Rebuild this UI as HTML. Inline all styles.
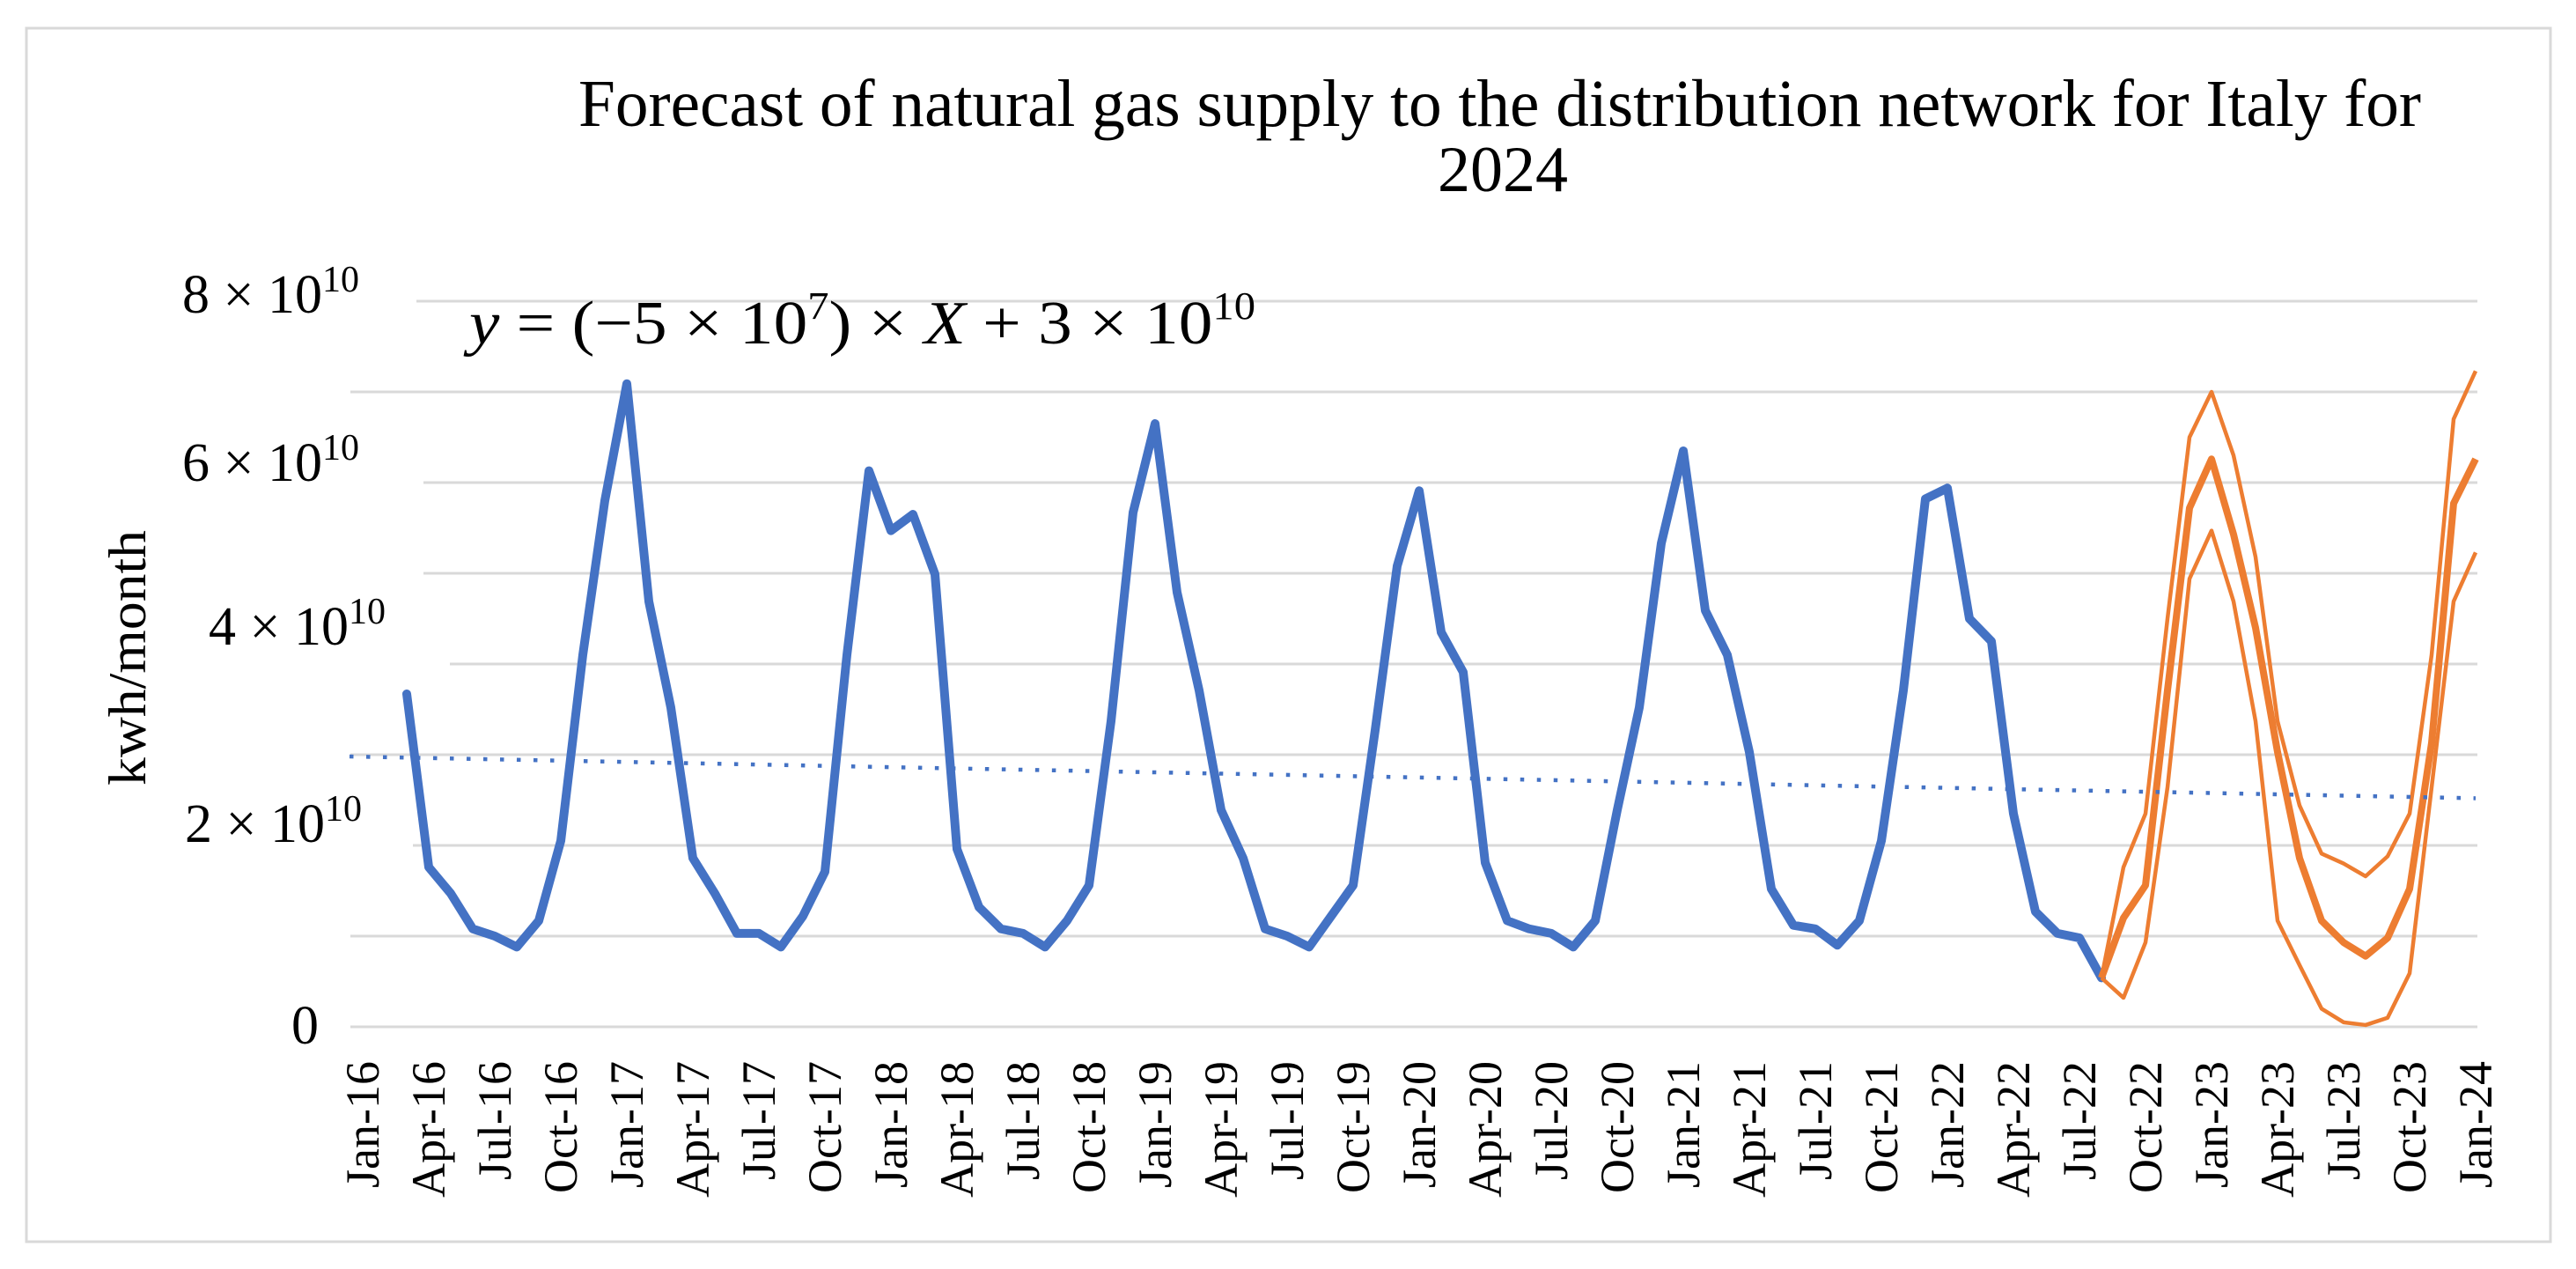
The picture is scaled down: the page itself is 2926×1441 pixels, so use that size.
<!DOCTYPE html>
<html><head><meta charset="utf-8"><style>
html,body{margin:0;padding:0;background:#fff;}
svg{display:block;}
text{font-family:"Liberation Serif",serif;fill:#000;}
</style></head><body>
<svg id="chart" width="2926" height="1441" viewBox="0 0 2926 1441" xmlns="http://www.w3.org/2000/svg">
<rect x="30" y="32" width="2867" height="1378" fill="#fff" stroke="#d9d9d9" stroke-width="3"/>
<g id="grid"></g>
<g id="ylabels"></g>
<g id="xlabels"></g>
<g id="series"></g>
<text x="657" y="143" font-size="76" textLength="2093" lengthAdjust="spacingAndGlyphs">Forecast of natural gas supply to the distribution network for Italy for</text>
<text x="1707" y="217" font-size="74" text-anchor="middle">2024</text>
<text x="533" y="390" font-size="70" textLength="893" lengthAdjust="spacingAndGlyphs"><tspan font-style="italic">y</tspan> = (−5 × 10<tspan font-size="44" dy="-28">7</tspan><tspan dy="28">) × </tspan><tspan font-style="italic">X</tspan> + 3 × 10<tspan font-size="44" dy="-28">10</tspan></text>
<text transform="translate(165,747) rotate(-90)" font-size="60" text-anchor="middle" textLength="290" lengthAdjust="spacingAndGlyphs">kwh/month</text>
</svg>
<script>
const months = ["Jan-16","Apr-16","Jul-16","Oct-16","Jan-17","Apr-17","Jul-17","Oct-17","Jan-18","Apr-18","Jul-18","Oct-18","Jan-19","Apr-19","Jul-19","Oct-19","Jan-20","Apr-20","Jul-20","Oct-20","Jan-21","Apr-21","Jul-21","Oct-21","Jan-22","Apr-22","Jul-22","Oct-22","Jan-23","Apr-23","Jul-23","Oct-23","Jan-24"];
const yTicks = [0,1,2,3,4,5,6,7,8];
const yTickLabels = ["0","2","4","6","8"];
const yTickLabelValues = [0,2,4,6,8];
// historical series (x1e10), month index 2..79
const actualStart = 2;
const actual = [3.67,1.76,1.47,1.08,1.0,0.88,1.17,2.05,4.1,5.8,7.09,4.69,3.52,1.86,1.47,1.03,1.03,0.88,1.22,1.71,4.1,6.13,5.47,5.65,4.99,1.96,1.32,1.08,1.03,0.88,1.17,1.56,3.37,5.67,6.65,4.79,3.71,2.39,1.86,1.08,1.0,0.88,1.22,1.56,3.27,5.08,5.91,4.35,3.91,1.81,1.17,1.08,1.03,0.88,1.17,2.39,3.52,5.33,6.35,4.59,4.1,3.03,1.52,1.12,1.08,0.9,1.17,2.05,3.71,5.82,5.94,4.5,4.25,2.35,1.27,1.03,0.98,0.54];
// forecast series, month index 79..96
const forecastStart = 79;
const forecastUpper = [0.54,1.76,2.35,4.5,6.5,7.0,6.3,5.18,3.37,2.44,1.91,1.8,1.66,1.88,2.35,4.1,6.7,7.23];
const forecastMid   = [0.54,1.2,1.56,3.71,5.72,6.26,5.43,4.4,3.03,1.86,1.17,0.93,0.78,0.98,1.52,3.13,5.77,6.26];
const forecastLower = [0.54,0.32,0.93,2.64,4.94,5.47,4.69,3.37,1.17,0.68,0.2,0.05,0.02,0.1,0.59,2.64,4.69,5.23];
const trendMonths = [0,96];
const trendValues = [2.98,2.52];

const NS="http://www.w3.org/2000/svg";
const X0=412, DX=25, Y0=1166, DY=103, XR=2814;
function xs(m){return X0+m*DX;}
function ys(v){return Y0-v*DY;}
function mk(tag,attrs,parent){const e=document.createElementNS(NS,tag);for(const k in attrs)e.setAttribute(k,attrs[k]);parent.appendChild(e);return e;}
const grid=document.getElementById('grid');
const gridStart={0:398,1:398,2:469,3:398,4:511,5:481,6:481,7:398,8:473};
yTicks.forEach(t=>{
  const l=mk('line',{x1:gridStart[t],x2:XR,y1:ys(t),y2:ys(t),stroke:'#d9d9d9','stroke-width':3},grid);
  
  
});
const yl=document.getElementById('ylabels');
const labelPos={0:[331,1165],2:[210,936],4:[237,712],6:[207,526],8:[207,335]};
yTickLabels.forEach((s,i)=>{
  const v=yTickLabelValues[i];
  const p=labelPos[v];
  const t=mk('text',{x:p[0],y:p[1]+20,'font-size':62},yl);
  
  
  if(v===0){t.textContent='0';}
  else{
    t.appendChild(document.createTextNode(s+' × 10'));
    const sp=mk('tspan',{'font-size':42,dy:-24},t);sp.textContent='10';
  }
});
const xl=document.getElementById('xlabels');
months.forEach((m,i)=>{
  const t=mk('text',{transform:`translate(${xs(i*3)+18},1205) rotate(-90)`,'font-size':54,'text-anchor':'end'},xl);
  
  
  t.textContent=m;
});
const sg=document.getElementById('series');
function pts(start,arr){return arr.map((v,i)=>xs(start+i)+','+ys(v)).join(' ');}
const blue=mk('polyline',{points:pts(actualStart,actual),fill:'none',stroke:'#4472C4','stroke-width':10,'stroke-linejoin':'round','stroke-linecap':'round'},sg);


const fu=mk('polyline',{points:pts(forecastStart,forecastUpper),fill:'none',stroke:'#ED7D31','stroke-width':4.5,'stroke-linejoin':'round'},sg);


const fm=mk('polyline',{points:pts(forecastStart,forecastMid),fill:'none',stroke:'#ED7D31','stroke-width':8,'stroke-linejoin':'round'},sg);


const fl=mk('polyline',{points:pts(forecastStart,forecastLower),fill:'none',stroke:'#ED7D31','stroke-width':4.5,'stroke-linejoin':'round'},sg);


const tr=mk('line',{x1:xs(trendMonths[0])-15,y1:ys(trendValues[0]),x2:xs(trendMonths[1]),y2:ys(trendValues[1]),stroke:'#4472C4','stroke-width':4.5,'stroke-dasharray':'4.5 14.5'},sg);


</script>
</body></html>
